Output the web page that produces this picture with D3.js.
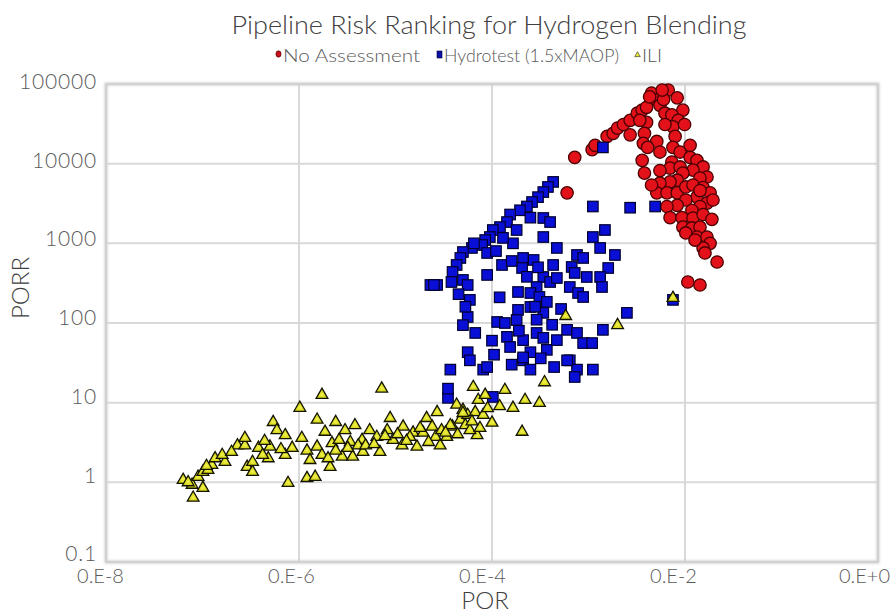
<!DOCTYPE html>
<html>
<head>
<meta charset="utf-8">
<script src="https://cdn.jsdelivr.net/npm/d3@7/dist/d3.min.js"></script>
<style>
  html, body { margin: 0; padding: 0; background: #fff; }
  svg { display: block; font-family: "Lato Light", "Lato", "Open Sans", sans-serif; }
</style>
</head>
<body>
<svg id="chart" width="896" height="613"></svg>
<script>
// Series: [POR, PORR]
const noAssessment = [
  [7.2e-4,1.2e4],[6.0e-4,4.3e3],[1.09e-3,1.5e4],[1.17e-3,1.7e4],[1.56e-3,2.2e4],[1.8e-3,2.4e4],
  [2.0e-3,2.8e4],[2.3e-3,3.1e4],[2.7e-3,3.5e4],[2.7e-3,2.3e4],[3.2e-3,4.3e4],[3.6e-3,4.7e4],
  [4.0e-3,5.1e4],[4.5e-3,7.7e4],[5.1e-3,6.3e4],[5.5e-3,5.4e4],[6.7e-3,8.4e4],[8.3e-3,6.7e4],
  [9.5e-3,4.7e4],[6.2e-3,4.3e4],[7.3e-3,4.1e4],[8.5e-3,3.5e4],[4.0e-3,3.3e4],[3.8e-3,2.4e4],
  [3.7e-3,1.8e4],[3.6e-3,1.1e4],[3.8e-3,7.6e3],[5.1e-3,1.9e4],[5.5e-3,1.4e4],[7.5e-3,2.9e4],
  [7.9e-3,2.2e4],[7.5e-3,1.6e4],[8.9e-3,1.4e4],[7.3e-3,1.05e4],[7.0e-3,8.8e3],[8.9e-3,9.1e3],
  [1.13e-2,1.2e4],[1.33e-2,1.1e4],[1.54e-2,9.1e3],[1.21e-2,8.3e3],[9.5e-3,7.6e3],[1.69e-2,6.8e3],
  [1.43e-2,6.6e3],[8.3e-3,6.2e3],[7.0e-3,5.9e3],[5.5e-3,5.7e3],[5.1e-3,4.3e3],[6.5e-3,4.3e3],
  [8.3e-3,4.3e3],[1.02e-2,5.1e3],[1.21e-2,5.4e3],[1.54e-2,5.0e3],[1.82e-2,4.3e3],[1.33e-2,3.8e3],
  [1.02e-2,3.5e3],[8.3e-3,3.0e3],[6.5e-3,2.9e3],[1.69e-2,3.2e3],[1.43e-2,2.9e3],[1.18e-2,2.6e3],
  [7.0e-3,2.1e3],[9.3e-3,2.1e3],[1.21e-2,2.08e3],[1.54e-2,2.3e3],[9.5e-3,1.6e3],[1.18e-2,1.56e3],
  [1.43e-2,1.6e3],[1.02e-2,1.35e3],[1.33e-2,1.2e3],[1.69e-2,1.2e3],[1.82e-2,1.0e3],[1.54e-2,875],
  [1.61e-2,757],[2.15e-2,583],[1.07e-2,327],[1.43e-2,300],[6.0e-3,6.4e4],[3.4e-3,3.5e4],[4.1e-3,1.6e4],
  [4.3e-3,6.9e4],[5.8e-3,8.4e4],[9.9e-3,3.1e4],[6.2e-3,3.1e4],[1.13e-2,1.7e4],[1.43e-2,4.6e3],
  [1.95e-2,3.5e3],[1.9e-2,2.0e3],[1.27e-2,1.1e3],[5.5e-3,8.2e3],[4.5e-3,5.4e3]
];

const hydrotest = [
  [4.3e-4,5.9e3],[3.8e-4,5.1e3],[3.4e-4,4.4e3],[3.0e-4,3.8e3],[2.6e-4,3.3e3],[2.3e-4,2.9e3],
  [1.95e-4,2.6e3],[1.54e-4,2.3e3],[1.43e-4,1.85e3],[1.21e-4,1.6e3],[1.02e-4,1.47e3],[9.5e-5,1.2e3],
  [8.5e-5,1.1e3],[7.9e-5,953],[2.5e-4,2.1e3],[3.4e-4,2.08e3],[4.0e-4,1.85e3],[3.4e-4,1.2e3],
  [1.8e-4,1.47e3],[1.65e-4,1.0e3],[1.3e-4,1.17e3],[8.9e-5,757],[6.2e-5,875],[5.0e-5,778],
  [4.7e-5,655],[4.3e-5,535],[3.9e-5,437],[3.8e-5,327],[2.3e-5,300],[2.7e-5,300],[5.0e-5,347],
  [5.6e-5,300],[5.9e-5,195],[8.9e-5,401],[1.27e-4,535],[2.1e-4,655],[2.7e-4,618],[2.05e-4,490],
  [4.7e-4,875],[4.3e-4,535],[1.11e-3,2.9e3],[2.7e-3,2.8e3],[4.9e-3,2.9e3],[1.11e-3,1.2e3],
  [1.48e-3,1.47e3],[1.32e-3,875],[1.88e-3,714],[1.6e-3,490],[1.32e-3,378],[1.38e-3,283],
  [7.6e-4,714],[6.7e-4,505],[8.8e-4,655],[9.6e-4,378],[7.2e-4,425],[6.4e-4,283],[7.8e-4,238],
  [8.8e-4,212],[3.4e-4,378],[4.0e-4,327],[4.7e-4,367],[2.9e-4,283],[2.5e-4,238],[1.86e-4,245],
  [3.1e-4,212],[3.7e-4,184],[2.5e-4,159],[3.4e-4,134],[1.86e-4,146],[1.8e-4,109],[1.13e-4,103],
  [1.36e-4,100],[5.6e-5,119],[5.0e-5,94],[6.7e-5,75],[1.43e-4,67],[1.54e-4,50],[2.1e-4,61],
  [2.1e-4,34],[2.5e-4,43],[2.9e-4,75],[3.4e-4,65],[3.7e-4,46],[4.7e-4,61],[6.0e-4,82],[7.6e-4,75],
  [8.8e-4,56],[1.09e-3,56],[1.41e-3,82],[2.5e-3,134],[6.4e-4,34],[7.6e-4,26],[1.11e-3,26],
  [2.5e-4,26],[5.6e-5,43],[5.9e-5,34],[8.1e-5,26],[8.9e-5,28],[3.7e-5,26],[1.41e-3,1.6e4],
  [7.5e-3,195],[7.2e-4,21],[3.5e-5,11.5],[1.02e-4,11.8],[2.1e-4,37],[6.0e-4,34],[2.5e-5,300],[3.5e-5,15],
  [4.5e-5,230],[5.3e-5,160],[6.5e-5,1.0e3],[1.1e-4,800],[1.6e-4,600],[2.3e-4,380],[3.0e-4,500],
  [2.8e-4,160],[1.2e-4,210],[1.0e-4,60],[1.9e-4,80],[2.9e-4,110],[4.2e-4,95],[5.2e-4,150],
  [1.05e-4,40],[1.6e-4,30],[4.4e-4,28],[3.2e-4,36]
];

const ili = [
  [6.3e-8,1.07],[7.8e-8,0.93],[8.0e-8,0.64],[1.01e-7,0.85],[9.0e-8,1.17],[1.01e-7,1.35],[1.14e-7,1.43],
  [1.25e-7,1.65],[1.35e-7,2.0],[1.71e-7,1.8],[2.3e-7,2.9],[2.75e-7,2.9],[2.75e-7,3.6],[3.8e-7,2.7],
  [2.9e-7,1.56],[3.3e-7,1.35],[3.3e-7,1.8],[5.0e-7,2.8],[4.8e-7,2.0],[5.4e-7,5.7],[5.9e-7,4.5],
  [7.2e-7,3.9],[7.2e-7,2.2],[7.7e-7,0.98],[8.5e-7,2.7],[1.02e-6,8.6],[1.07e-6,3.6],[1.21e-6,2.5],
  [1.21e-6,1.13],[1.47e-6,1.17],[1.54e-6,6.1],[1.73e-6,12.5],[1.54e-6,2.8],[1.86e-6,4.3],[1.73e-6,2.2],
  [2.2e-6,3.1],[2.4e-6,5.7],[2.1e-6,1.56],[2.8e-6,2.1],[3.4e-6,3.2],[3.6e-6,2.1],[4.5e-6,3.4],
  [4.6e-6,2.4],[5.4e-6,4.5],[7.2e-6,15],[6.4e-6,3.7],[8.8e-6,6.4],[8.2e-6,4.5],[9.4e-6,3.4],
  [1.2e-5,5.0],[1.52e-5,4.2],[1.17e-5,2.9],[1.67e-5,2.8],[2.1e-5,6.4],[1.93e-5,4.2],[2.4e-5,5.0],
  [2.7e-5,7.6],[2.6e-5,3.7],[3.0e-5,4.5],[3.9e-5,5.0],[2.9e-5,2.9],[4.3e-5,9.4],[5.0e-5,8.1],
  [4.7e-5,6.1],[5.6e-5,7.0],[6.4e-5,15.7],[7.2e-5,10.8],[6.7e-5,7.6],[8.5e-5,12.5],[8.1e-5,7.0],
  [1.0e-4,5.6],[7.0e-5,3.9],[1.36e-4,14.4],[1.65e-4,8.6],[2.2e-4,10.8],[2.05e-4,4.3],[3.1e-4,9.9],
  [3.5e-4,18],[6.9e-6,2.4],[3.7e-5,5.2],[5.0e-5,7.4],[5.8e-4,122],[2.0e-3,94],[7.5e-3,206],
  [3.0e-6,4.5],[3.8e-6,5.2],[4.1e-6,2.9],[2.6e-6,3.4],[2.4e-6,2.5],[4.9e-6,2.9],[1.41e-5,3.7],
  [1.8e-5,4.8],[3.4e-5,3.7],[5.3e-5,5.2],[5.9e-5,4.5],[7.5e-5,4.8],[7.1e-8,1.0],[1.1e-7,1.6],
  [1.6e-7,2.2],[4.2e-7,2.2],
  [3.2e-6,2.7],[6.0e-6,3.0],[7.8e-6,3.8],[1.05e-5,4.0],[1.3e-5,3.3],[2.2e-5,3.2],[3.3e-5,4.2],
  [4.4e-5,4.0],[6.2e-5,5.8],[9.0e-5,8.5],[1.2e-4,9.0],[2.0e-6,2.0],[1.3e-6,1.9],[6.5e-7,2.6],
  [2.0e-7,2.4],[4.4e-7,3.3]
];

const seriesNames = ["No Assessment", "Hydrotest (1.5xMAOP)", "ILI"];
const xTickValues = [1e-8, 1e-6, 1e-4, 1e-2, 1];
const xTickLabels = ["0.E-8", "0.E-6", "0.E-4", "0.E-2", "0.E+0"];
const yTickValues = [0.1, 1, 10, 100, 1000, 10000, 100000];
const yTickLabels = ["0.1", "1", "10", "100", "1000", "10000", "100000"];

const svg = d3.select("#chart");
const margin = { left: 106, right: 18, top: 84, bottom: 51 };
const W = 896, H = 613;
const plotW = W - margin.left - margin.right;
const plotH = H - margin.top - margin.bottom;

const x = d3.scaleLog().domain([1e-8, 1]).range([margin.left, margin.left + plotW]);
const y = d3.scaleLog().domain([0.1, 1e5]).range([margin.top + plotH, margin.top]);

const textColor = "#595959";
const titleColor = "#404040";
const fontStack = '"Lato Light", "Lato", "Open Sans", sans-serif';

// Marker fill and frame softening
const defs = svg.append("defs");
const gy = defs.append("radialGradient").attr("id", "triFill").attr("cx", "50%").attr("cy", "62%").attr("r", "60%");
gy.append("stop").attr("offset", "0%").attr("stop-color", "#f2f24a");
gy.append("stop").attr("offset", "100%").attr("stop-color", "#c4c400");
const soft = defs.append("filter").attr("id", "soft").attr("x", "-5%").attr("y", "-5%").attr("width", "110%").attr("height", "110%");
soft.append("feGaussianBlur").attr("stdDeviation", 0.8);

// Gridlines
const grid = svg.append("g");
grid.selectAll("line.h").data(yTickValues).join("line")
  .attr("x1", margin.left).attr("x2", margin.left + plotW)
  .attr("y1", d => y(d)).attr("y2", d => y(d))
  .attr("stroke", "#d9d9d9").attr("stroke-width", 2);
grid.selectAll("line.v").data(xTickValues).join("line")
  .attr("y1", margin.top).attr("y2", margin.top + plotH)
  .attr("x1", d => x(d)).attr("x2", d => x(d))
  .attr("stroke", "#d9d9d9").attr("stroke-width", 2);

// Plot area frame
svg.append("rect")
  .attr("x", margin.left).attr("y", margin.top).attr("width", plotW).attr("height", plotH)
  .attr("fill", "none").attr("stroke", "#cfcfcf").attr("stroke-width", 3).attr("filter", "url(#soft)");

// Axes (labels sit a little left of / above their gridlines)
const xAxis = d3.axisBottom(x).tickValues(xTickValues)
  .tickFormat((d, i) => xTickLabels[i]).tickSize(0).tickPadding(7);
const gx = svg.append("g").attr("transform", `translate(0,${margin.top + plotH})`).call(xAxis)
  .attr("font-family", fontStack).attr("font-size", 20);
gx.select(".domain").remove();
gx.selectAll("text").attr("fill", textColor)
  .attr("dx", (d, i) => -6 - 2 * i);

const yAxis = d3.axisLeft(y).tickValues(yTickValues)
  .tickFormat((d, i) => yTickLabels[i]).tickSize(0).tickPadding(9);
const gyAxis = svg.append("g").attr("transform", `translate(${margin.left},0)`).call(yAxis)
  .attr("font-family", fontStack).attr("font-size", 21);
gyAxis.select(".domain").remove();
gyAxis.selectAll("text").attr("fill", textColor)
  .attr("letter-spacing", 0.8)
  .attr("transform", (d, i) => `translate(0,${-2.5 - 0.9 * (yTickValues.length - 1 - i)})`);

// Points
const plot = svg.append("g");
plot.selectAll("circle.na").data(noAssessment).join("circle")
  .attr("cx", d => x(d[0])).attr("cy", d => y(d[1])).attr("r", 6.2)
  .attr("fill", "#e3111a").attr("stroke", "#4a0000").attr("stroke-width", 1.3);

const sq = 10.5;
plot.selectAll("rect.ht").data(hydrotest).join("rect")
  .attr("x", d => x(d[0]) - sq / 2).attr("y", d => y(d[1]) - sq / 2)
  .attr("width", sq).attr("height", sq)
  .attr("fill", "#0a0fd8").attr("stroke", "#00002e").attr("stroke-width", 1.2);

const tri = d3.symbol().type(d3.symbolTriangle).size(60);
plot.selectAll("path.ili").data(ili).join("path")
  .attr("transform", d => `translate(${x(d[0])},${y(d[1])})`)
  .attr("d", tri)
  .attr("fill", "url(#triFill)").attr("stroke", "#141400").attr("stroke-width", 1.3);

// Title
svg.append("text").attr("x", 489).attr("y", 34).attr("text-anchor", "middle")
  .attr("font-size", 25).attr("fill", titleColor)
  .attr("textLength", 515).attr("lengthAdjust", "spacingAndGlyphs")
  .text("Pipeline Risk Ranking for Hydrogen Blending");

// Legend
const legendTextLen = [137, 175, 20];
const legendStart = [276, 437, 635];
const legend = svg.append("g").attr("transform", "translate(0,62)");
const legendItems = legend.selectAll("g").data(seriesNames).join("g")
  .attr("transform", (d, i) => `translate(${legendStart[i]},0)`);
legendItems.append("text").attr("font-size", 18).attr("fill", textColor)
  .attr("x", 7).attr("y", 0)
  .attr("textLength", (d, i) => legendTextLen[i]).attr("lengthAdjust", "spacingAndGlyphs")
  .text(d => d);
legendItems.filter((d, i) => i === 0).append("ellipse").attr("cx", 2.5).attr("cy", -8).attr("rx", 2.6).attr("ry", 3.2)
  .attr("fill", "#c8101a").attr("stroke", "#4a0000").attr("stroke-width", 0.6);
legendItems.filter((d, i) => i === 1).append("rect").attr("x", 0).attr("y", -11).attr("width", 5).attr("height", 7)
  .attr("fill", "#0a0fa8").attr("stroke", "#00002e").attr("stroke-width", 0.6);
legendItems.filter((d, i) => i === 2).append("path")
  .attr("transform", "translate(2.5,-7)").attr("d", d3.symbol().type(d3.symbolTriangle).size(14))
  .attr("fill", "url(#triFill)").attr("stroke", "#333").attr("stroke-width", 0.6);

// Axis titles
svg.append("text").attr("x", 485).attr("y", 609).attr("text-anchor", "middle")
  .attr("font-size", 24).attr("fill", titleColor).text("POR");
svg.append("text").attr("transform", `translate(29,${margin.top + plotH / 2 - 35}) rotate(-90)`)
  .attr("text-anchor", "middle")
  .attr("font-size", 24).attr("fill", titleColor).text("PORR");
</script>
</body>
</html>
